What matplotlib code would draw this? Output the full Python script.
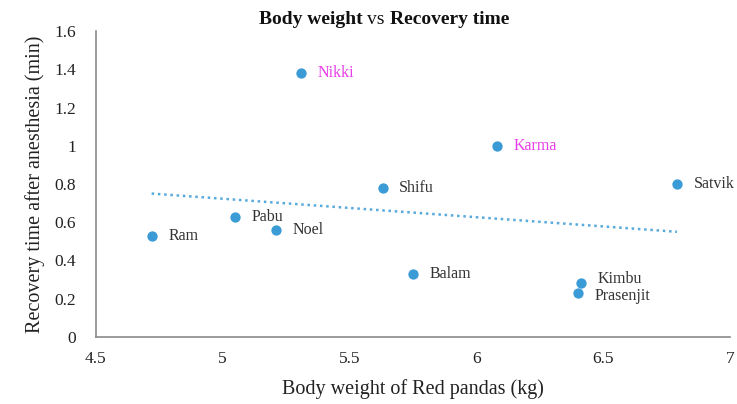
import matplotlib
matplotlib.use("Agg")
import matplotlib.pyplot as plt
import numpy as np

names = ["Ram", "Pabu", "Noel", "Nikki", "Shifu", "Balam", "Karma", "Prasenjit", "Kimbu", "Satvik"]
weights = [4.72, 5.05, 5.21, 5.31, 5.63, 5.75, 6.08, 6.40, 6.41, 6.79]
recovery = [0.53, 0.63, 0.56, 1.38, 0.78, 0.33, 1.00, 0.23, 0.28, 0.80]
highlight = ["Nikki", "Karma"]
xticks = [4.5, 5, 5.5, 6, 6.5, 7]
xticklabels = ["4.5", "5", "5.5", "6", "6.5", "7"]
yticks = [0, 0.2, 0.4, 0.6, 0.8, 1.0, 1.2, 1.4, 1.6]
yticklabels = ["0", "0.2", "0.4", "0.6", "0.8", "1", "1.2", "1.4", "1.6"]

plt.rcParams['font.family'] = ['Liberation Serif', 'DejaVu Serif']

fig = plt.figure(figsize=(7.37, 4.04), dpi=100)
ax = fig.add_axes([0.130, 0.166, 0.861, 0.757])

blue = "#3b9bd6"
ax.scatter(weights, recovery, s=55, color=blue, zorder=3, linewidths=0)

# linear trendline
coef = np.polyfit(weights, recovery, 1)
xt = np.array([min(weights), max(weights)])
ax.plot(xt, np.polyval(coef, xt), linestyle=(0, (1, 1.5)), color=blue, lw=1.8, alpha=0.85, zorder=2)

for n, x, y in zip(names, weights, recovery):
    col = "#e83de8" if n in highlight else "#333333"
    dy = 0
    if n == "Kimbu":
        dy = 3
    elif n == "Prasenjit":
        dy = -2
    ax.annotate(n, (x, y), xytext=(12, dy), textcoords="offset points",
                ha="left", va="center", fontsize=11.5, color=col, clip_on=False)

ax.set_xlim(4.5, 7)
ax.set_ylim(0, 1.6)
ax.set_xticks(xticks)
ax.set_xticklabels(xticklabels)
ax.set_yticks(yticks)
ax.set_yticklabels(yticklabels)
ax.tick_params(axis="both", length=0, labelsize=12.5, colors="#222222", pad=10)
ax.tick_params(axis="y", pad=14)

for s in ["top", "right"]:
    ax.spines[s].set_visible(False)
for s in ["left", "bottom"]:
    ax.spines[s].set_color("#8a8a8a")
    ax.spines[s].set_linewidth(1.2)

ax.set_xlabel("Body weight of Red pandas (kg)", fontsize=14.5, color="#222222", labelpad=9)
ax.set_ylabel("Recovery time after anesthesia (min)", fontsize=14.5, color="#222222", labelpad=7)

# title with mixed weights
fig.canvas.draw()
r = fig.canvas.get_renderer()
parts = [("Body weight ", "bold"), ("vs ", "normal"), ("Recovery time", "bold")]
texts = []
widths = []
for s, w in parts:
    t = fig.text(0, 0, s, fontsize=14, fontweight=w, color="#111111")
    bb = t.get_window_extent(renderer=r)
    widths.append(bb.width / fig.bbox.width)
    texts.append(t)
total = sum(widths)
x0 = 0.521 - total / 2
for t, w in zip(texts, widths):
    t.set_position((x0, 0.940))
    x0 += w

fig.savefig("out.png", dpi=100)
